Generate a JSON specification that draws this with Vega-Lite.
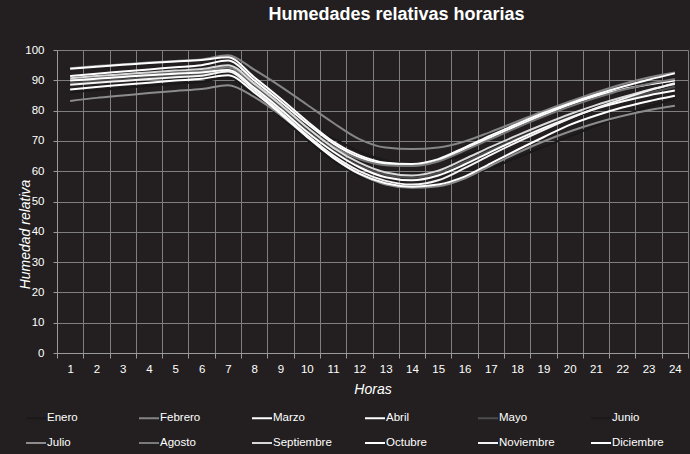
{
  "$schema": "https://vega.github.io/schema/vega-lite/v6.json",
  "width": 631,
  "height": 303,
  "autosize": {"type": "none"},
  "padding": {"left": 57, "top": 50, "right": 2, "bottom": 101},
  "background": "#231f20",
  "title": {
    "text": "Humedades relativas horarias",
    "font": "Liberation Sans",
    "fontSize": 18,
    "fontWeight": "bold",
    "color": "#ffffff",
    "anchor": "middle",
    "dx": 24,
    "offset": 20
  },
  "config": {
    "view": {"stroke": null},
    "font": "Liberation Sans"
  },
  "datasets": {
    "hr": [
      {"mes":"Enero","hora":1,"hr":90.2},{"mes":"Enero","hora":2,"hr":90.8},{"mes":"Enero","hora":3,"hr":91.4},{"mes":"Enero","hora":4,"hr":92.0},{"mes":"Enero","hora":5,"hr":92.5},{"mes":"Enero","hora":6,"hr":93.0},{"mes":"Enero","hora":7,"hr":94.0},{"mes":"Enero","hora":8,"hr":86.0},{"mes":"Enero","hora":9,"hr":78.5},{"mes":"Enero","hora":10,"hr":74.0},{"mes":"Enero","hora":11,"hr":70.8},{"mes":"Enero","hora":12,"hr":66.5},{"mes":"Enero","hora":13,"hr":63.5},{"mes":"Enero","hora":14,"hr":62.5},{"mes":"Enero","hora":15,"hr":63.3},{"mes":"Enero","hora":16,"hr":65.3},{"mes":"Enero","hora":17,"hr":67.8},{"mes":"Enero","hora":18,"hr":70.6},{"mes":"Enero","hora":19,"hr":73.8},{"mes":"Enero","hora":20,"hr":77.2},{"mes":"Enero","hora":21,"hr":80.4},{"mes":"Enero","hora":22,"hr":83.4},{"mes":"Enero","hora":23,"hr":86.1},{"mes":"Enero","hora":24,"hr":88.6},
      {"mes":"Junio","hora":1,"hr":86.0},{"mes":"Junio","hora":2,"hr":86.8},{"mes":"Junio","hora":3,"hr":87.5},{"mes":"Junio","hora":4,"hr":88.2},{"mes":"Junio","hora":5,"hr":88.9},{"mes":"Junio","hora":6,"hr":89.5},{"mes":"Junio","hora":7,"hr":91.0},{"mes":"Junio","hora":8,"hr":85.0},{"mes":"Junio","hora":9,"hr":78.0},{"mes":"Junio","hora":10,"hr":70.5},{"mes":"Junio","hora":11,"hr":63.5},{"mes":"Junio","hora":12,"hr":58.5},{"mes":"Junio","hora":13,"hr":55.5},{"mes":"Junio","hora":14,"hr":54.5},{"mes":"Junio","hora":15,"hr":55.5},{"mes":"Junio","hora":16,"hr":58.0},{"mes":"Junio","hora":17,"hr":61.0},{"mes":"Junio","hora":18,"hr":64.5},{"mes":"Junio","hora":19,"hr":68.0},{"mes":"Junio","hora":20,"hr":71.5},{"mes":"Junio","hora":21,"hr":75.0},{"mes":"Junio","hora":22,"hr":78.3},{"mes":"Junio","hora":23,"hr":81.3},{"mes":"Junio","hora":24,"hr":84.0},
      {"mes":"Febrero","hora":1,"hr":94.0},{"mes":"Febrero","hora":2,"hr":94.7},{"mes":"Febrero","hora":3,"hr":95.3},{"mes":"Febrero","hora":4,"hr":95.9},{"mes":"Febrero","hora":5,"hr":96.4},{"mes":"Febrero","hora":6,"hr":96.9},{"mes":"Febrero","hora":7,"hr":98.3},{"mes":"Febrero","hora":8,"hr":93.5},{"mes":"Febrero","hora":9,"hr":88.0},{"mes":"Febrero","hora":10,"hr":82.0},{"mes":"Febrero","hora":11,"hr":76.0},{"mes":"Febrero","hora":12,"hr":70.6},{"mes":"Febrero","hora":13,"hr":67.8},{"mes":"Febrero","hora":14,"hr":67.3},{"mes":"Febrero","hora":15,"hr":67.8},{"mes":"Febrero","hora":16,"hr":69.8},{"mes":"Febrero","hora":17,"hr":73.0},{"mes":"Febrero","hora":18,"hr":76.4},{"mes":"Febrero","hora":19,"hr":79.8},{"mes":"Febrero","hora":20,"hr":83.0},{"mes":"Febrero","hora":21,"hr":86.0},{"mes":"Febrero","hora":22,"hr":88.7},{"mes":"Febrero","hora":23,"hr":90.9},{"mes":"Febrero","hora":24,"hr":92.6},
      {"mes":"Marzo","hora":1,"hr":93.8},{"mes":"Marzo","hora":2,"hr":94.5},{"mes":"Marzo","hora":3,"hr":95.1},{"mes":"Marzo","hora":4,"hr":95.7},{"mes":"Marzo","hora":5,"hr":96.2},{"mes":"Marzo","hora":6,"hr":96.7},{"mes":"Marzo","hora":7,"hr":97.6},{"mes":"Marzo","hora":8,"hr":91.0},{"mes":"Marzo","hora":9,"hr":84.0},{"mes":"Marzo","hora":10,"hr":76.6},{"mes":"Marzo","hora":11,"hr":69.8},{"mes":"Marzo","hora":12,"hr":65.2},{"mes":"Marzo","hora":13,"hr":62.8},{"mes":"Marzo","hora":14,"hr":62.4},{"mes":"Marzo","hora":15,"hr":64.0},{"mes":"Marzo","hora":16,"hr":67.8},{"mes":"Marzo","hora":17,"hr":71.8},{"mes":"Marzo","hora":18,"hr":75.6},{"mes":"Marzo","hora":19,"hr":79.2},{"mes":"Marzo","hora":20,"hr":82.4},{"mes":"Marzo","hora":21,"hr":85.3},{"mes":"Marzo","hora":22,"hr":87.9},{"mes":"Marzo","hora":23,"hr":90.2},{"mes":"Marzo","hora":24,"hr":92.3},
      {"mes":"Abril","hora":1,"hr":91.4},{"mes":"Abril","hora":2,"hr":92.2},{"mes":"Abril","hora":3,"hr":92.9},{"mes":"Abril","hora":4,"hr":93.6},{"mes":"Abril","hora":5,"hr":94.3},{"mes":"Abril","hora":6,"hr":95.0},{"mes":"Abril","hora":7,"hr":96.5},{"mes":"Abril","hora":8,"hr":90.0},{"mes":"Abril","hora":9,"hr":83.0},{"mes":"Abril","hora":10,"hr":75.8},{"mes":"Abril","hora":11,"hr":69.2},{"mes":"Abril","hora":12,"hr":64.6},{"mes":"Abril","hora":13,"hr":62.3},{"mes":"Abril","hora":14,"hr":61.9},{"mes":"Abril","hora":15,"hr":63.4},{"mes":"Abril","hora":16,"hr":67.2},{"mes":"Abril","hora":17,"hr":71.2},{"mes":"Abril","hora":18,"hr":75.0},{"mes":"Abril","hora":19,"hr":78.6},{"mes":"Abril","hora":20,"hr":82.0},{"mes":"Abril","hora":21,"hr":84.8},{"mes":"Abril","hora":22,"hr":87.0},{"mes":"Abril","hora":23,"hr":88.6},{"mes":"Abril","hora":24,"hr":89.9},
      {"mes":"Mayo","hora":1,"hr":89.0},{"mes":"Mayo","hora":2,"hr":89.7},{"mes":"Mayo","hora":3,"hr":90.3},{"mes":"Mayo","hora":4,"hr":90.9},{"mes":"Mayo","hora":5,"hr":91.4},{"mes":"Mayo","hora":6,"hr":91.9},{"mes":"Mayo","hora":7,"hr":93.2},{"mes":"Mayo","hora":8,"hr":87.8},{"mes":"Mayo","hora":9,"hr":81.0},{"mes":"Mayo","hora":10,"hr":73.5},{"mes":"Mayo","hora":11,"hr":66.8},{"mes":"Mayo","hora":12,"hr":61.8},{"mes":"Mayo","hora":13,"hr":58.8},{"mes":"Mayo","hora":14,"hr":57.8},{"mes":"Mayo","hora":15,"hr":59.4},{"mes":"Mayo","hora":16,"hr":63.0},{"mes":"Mayo","hora":17,"hr":67.0},{"mes":"Mayo","hora":18,"hr":70.8},{"mes":"Mayo","hora":19,"hr":74.4},{"mes":"Mayo","hora":20,"hr":77.8},{"mes":"Mayo","hora":21,"hr":80.8},{"mes":"Mayo","hora":22,"hr":83.4},{"mes":"Mayo","hora":23,"hr":85.8},{"mes":"Mayo","hora":24,"hr":87.9},
      {"mes":"Julio","hora":1,"hr":83.2},{"mes":"Julio","hora":2,"hr":84.2},{"mes":"Julio","hora":3,"hr":85.0},{"mes":"Julio","hora":4,"hr":85.8},{"mes":"Julio","hora":5,"hr":86.5},{"mes":"Julio","hora":6,"hr":87.1},{"mes":"Julio","hora":7,"hr":88.4},{"mes":"Julio","hora":8,"hr":84.5},{"mes":"Julio","hora":9,"hr":78.5},{"mes":"Julio","hora":10,"hr":71.5},{"mes":"Julio","hora":11,"hr":64.5},{"mes":"Julio","hora":12,"hr":59.0},{"mes":"Julio","hora":13,"hr":55.6},{"mes":"Julio","hora":14,"hr":54.5},{"mes":"Julio","hora":15,"hr":55.0},{"mes":"Julio","hora":16,"hr":57.6},{"mes":"Julio","hora":17,"hr":61.8},{"mes":"Julio","hora":18,"hr":66.0},{"mes":"Julio","hora":19,"hr":69.8},{"mes":"Julio","hora":20,"hr":73.1},{"mes":"Julio","hora":21,"hr":75.9},{"mes":"Julio","hora":22,"hr":78.2},{"mes":"Julio","hora":23,"hr":80.1},{"mes":"Julio","hora":24,"hr":81.6},
      {"mes":"Agosto","hora":1,"hr":90.0},{"mes":"Agosto","hora":2,"hr":90.7},{"mes":"Agosto","hora":3,"hr":91.3},{"mes":"Agosto","hora":4,"hr":91.9},{"mes":"Agosto","hora":5,"hr":92.5},{"mes":"Agosto","hora":6,"hr":93.0},{"mes":"Agosto","hora":7,"hr":94.2},{"mes":"Agosto","hora":8,"hr":88.6},{"mes":"Agosto","hora":9,"hr":81.8},{"mes":"Agosto","hora":10,"hr":74.6},{"mes":"Agosto","hora":11,"hr":68.2},{"mes":"Agosto","hora":12,"hr":64.0},{"mes":"Agosto","hora":13,"hr":62.0},{"mes":"Agosto","hora":14,"hr":61.7},{"mes":"Agosto","hora":15,"hr":63.2},{"mes":"Agosto","hora":16,"hr":66.8},{"mes":"Agosto","hora":17,"hr":70.6},{"mes":"Agosto","hora":18,"hr":74.4},{"mes":"Agosto","hora":19,"hr":78.0},{"mes":"Agosto","hora":20,"hr":81.3},{"mes":"Agosto","hora":21,"hr":84.2},{"mes":"Agosto","hora":22,"hr":86.8},{"mes":"Agosto","hora":23,"hr":88.8},{"mes":"Agosto","hora":24,"hr":90.4},
      {"mes":"Septiembre","hora":1,"hr":90.7},{"mes":"Septiembre","hora":2,"hr":91.4},{"mes":"Septiembre","hora":3,"hr":92.0},{"mes":"Septiembre","hora":4,"hr":92.6},{"mes":"Septiembre","hora":5,"hr":93.2},{"mes":"Septiembre","hora":6,"hr":93.7},{"mes":"Septiembre","hora":7,"hr":95.0},{"mes":"Septiembre","hora":8,"hr":89.0},{"mes":"Septiembre","hora":9,"hr":82.0},{"mes":"Septiembre","hora":10,"hr":74.5},{"mes":"Septiembre","hora":11,"hr":67.8},{"mes":"Septiembre","hora":12,"hr":62.8},{"mes":"Septiembre","hora":13,"hr":59.6},{"mes":"Septiembre","hora":14,"hr":58.6},{"mes":"Septiembre","hora":15,"hr":60.2},{"mes":"Septiembre","hora":16,"hr":64.0},{"mes":"Septiembre","hora":17,"hr":68.0},{"mes":"Septiembre","hora":18,"hr":71.8},{"mes":"Septiembre","hora":19,"hr":75.4},{"mes":"Septiembre","hora":20,"hr":78.8},{"mes":"Septiembre","hora":21,"hr":81.8},{"mes":"Septiembre","hora":22,"hr":84.4},{"mes":"Septiembre","hora":23,"hr":86.8},{"mes":"Septiembre","hora":24,"hr":88.8},
      {"mes":"Octubre","hora":1,"hr":89.9},{"mes":"Octubre","hora":2,"hr":90.5},{"mes":"Octubre","hora":3,"hr":91.1},{"mes":"Octubre","hora":4,"hr":91.7},{"mes":"Octubre","hora":5,"hr":92.2},{"mes":"Octubre","hora":6,"hr":92.6},{"mes":"Octubre","hora":7,"hr":93.4},{"mes":"Octubre","hora":8,"hr":87.5},{"mes":"Octubre","hora":9,"hr":80.5},{"mes":"Octubre","hora":10,"hr":73.0},{"mes":"Octubre","hora":11,"hr":66.5},{"mes":"Octubre","hora":12,"hr":61.3},{"mes":"Octubre","hora":13,"hr":58.0},{"mes":"Octubre","hora":14,"hr":57.0},{"mes":"Octubre","hora":15,"hr":58.6},{"mes":"Octubre","hora":16,"hr":62.2},{"mes":"Octubre","hora":17,"hr":66.4},{"mes":"Octubre","hora":18,"hr":70.4},{"mes":"Octubre","hora":19,"hr":74.2},{"mes":"Octubre","hora":20,"hr":77.6},{"mes":"Octubre","hora":21,"hr":80.6},{"mes":"Octubre","hora":22,"hr":83.0},{"mes":"Octubre","hora":23,"hr":85.0},{"mes":"Octubre","hora":24,"hr":86.6},
      {"mes":"Noviembre","hora":1,"hr":88.5},{"mes":"Noviembre","hora":2,"hr":89.2},{"mes":"Noviembre","hora":3,"hr":89.8},{"mes":"Noviembre","hora":4,"hr":90.4},{"mes":"Noviembre","hora":5,"hr":91.0},{"mes":"Noviembre","hora":6,"hr":91.5},{"mes":"Noviembre","hora":7,"hr":92.9},{"mes":"Noviembre","hora":8,"hr":86.8},{"mes":"Noviembre","hora":9,"hr":79.6},{"mes":"Noviembre","hora":10,"hr":72.0},{"mes":"Noviembre","hora":11,"hr":65.2},{"mes":"Noviembre","hora":12,"hr":60.0},{"mes":"Noviembre","hora":13,"hr":56.8},{"mes":"Noviembre","hora":14,"hr":55.6},{"mes":"Noviembre","hora":15,"hr":57.0},{"mes":"Noviembre","hora":16,"hr":61.0},{"mes":"Noviembre","hora":17,"hr":65.4},{"mes":"Noviembre","hora":18,"hr":69.6},{"mes":"Noviembre","hora":19,"hr":73.6},{"mes":"Noviembre","hora":20,"hr":77.4},{"mes":"Noviembre","hora":21,"hr":80.8},{"mes":"Noviembre","hora":22,"hr":83.8},{"mes":"Noviembre","hora":23,"hr":86.6},{"mes":"Noviembre","hora":24,"hr":89.0},
      {"mes":"Diciembre","hora":1,"hr":87.0},{"mes":"Diciembre","hora":2,"hr":87.8},{"mes":"Diciembre","hora":3,"hr":88.5},{"mes":"Diciembre","hora":4,"hr":89.2},{"mes":"Diciembre","hora":5,"hr":89.9},{"mes":"Diciembre","hora":6,"hr":90.5},{"mes":"Diciembre","hora":7,"hr":91.7},{"mes":"Diciembre","hora":8,"hr":86.0},{"mes":"Diciembre","hora":9,"hr":79.0},{"mes":"Diciembre","hora":10,"hr":71.4},{"mes":"Diciembre","hora":11,"hr":64.5},{"mes":"Diciembre","hora":12,"hr":59.2},{"mes":"Diciembre","hora":13,"hr":56.0},{"mes":"Diciembre","hora":14,"hr":54.9},{"mes":"Diciembre","hora":15,"hr":55.6},{"mes":"Diciembre","hora":16,"hr":58.2},{"mes":"Diciembre","hora":17,"hr":62.6},{"mes":"Diciembre","hora":18,"hr":67.0},{"mes":"Diciembre","hora":19,"hr":71.2},{"mes":"Diciembre","hora":20,"hr":75.3},{"mes":"Diciembre","hora":21,"hr":78.4},{"mes":"Diciembre","hora":22,"hr":81.0},{"mes":"Diciembre","hora":23,"hr":83.1},{"mes":"Diciembre","hora":24,"hr":84.9}
    ]
  },
  "data": {"name": "hr"},
  "mark": {"type": "line", "interpolate": "monotone", "strokeWidth": 2},
  "encoding": {
    "x": {
      "field": "hora",
      "type": "quantitative",
      "scale": {"domain": [0.5, 24.5], "nice": false, "zero": false},
      "axis": {
        "title": "Horas",
        "titleFont": "Liberation Sans",
        "titleFontStyle": "italic",
        "titleFontWeight": "normal",
        "titleFontSize": 14,
        "titleColor": "#ffffff",
        "titlePadding": 8,
        "values": [0.5,1.5,2.5,3.5,4.5,5.5,6.5,7.5,8.5,9.5,10.5,11.5,12.5,13.5,14.5,15.5,16.5,17.5,18.5,19.5,20.5,21.5,22.5,23.5,24.5],
        "labelExpr": "datum.value < 24 ? format(datum.value + 0.5, 'd') : ''",
        "labelOffset": 13.15,
        "labelFontSize": 11.5,
        "labelColor": "#ffffff",
        "labelPadding": 5,
        "labelOverlap": false,
        "labelBound": false,
        "labelFlush": false,
        "grid": true,
        "gridColor": "#7f7f7f",
        "gridWidth": 1,
        "tickColor": "#9a9a9a",
        "tickSize": 5,
        "domainColor": "#9a9a9a",
        "domainWidth": 1
      }
    },
    "y": {
      "field": "hr",
      "type": "quantitative",
      "scale": {"domain": [0, 100], "nice": false},
      "axis": {
        "title": "Humedad relativa",
        "titleFont": "Liberation Sans",
        "titleFontStyle": "italic",
        "titleFontWeight": "normal",
        "titleFontSize": 14,
        "titleColor": "#ffffff",
        "titleAngle": -90,
        "titleAlign": "center",
        "titleBaseline": "middle",
        "titleX": -32,
        "titleY": 184,
        "values": [0,10,20,30,40,50,60,70,80,90,100],
        "labelFontSize": 11.5,
        "labelColor": "#ffffff",
        "labelPadding": 9,
        "grid": true,
        "gridColor": "#7f7f7f",
        "gridWidth": 1,
        "tickColor": "#9a9a9a",
        "tickSize": 4,
        "domainColor": "#9a9a9a",
        "domainWidth": 1
      }
    },
    "color": {
      "field": "mes",
      "type": "nominal",
      "scale": {
        "domain": ["Enero","Febrero","Marzo","Abril","Mayo","Junio","Julio","Agosto","Septiembre","Octubre","Noviembre","Diciembre"],
        "range": ["#1b1819","#858585","#ffffff","#ffffff","#4d4d4d","#1b1819","#8c8c8c","#7a7a7a","#d9d9d9","#ffffff","#f4f4f4","#ffffff"]
      },
      "legend": {
        "orient": "none",
        "legendX": -32,
        "legendY": 357,
        "direction": "horizontal",
        "columns": 6,
        "gridAlign": "all",
        "columnPadding": 29,
        "rowPadding": 8,
        "padding": 0,
        "title": null,
        "symbolType": "stroke",
        "symbolSize": 400,
        "symbolStrokeWidth": 2,
        "labelOffset": 0,
        "labelFontSize": 11.5,
        "labelColor": "#ffffff",
        "labelFont": "Liberation Sans"
      }
    }
  }
}
